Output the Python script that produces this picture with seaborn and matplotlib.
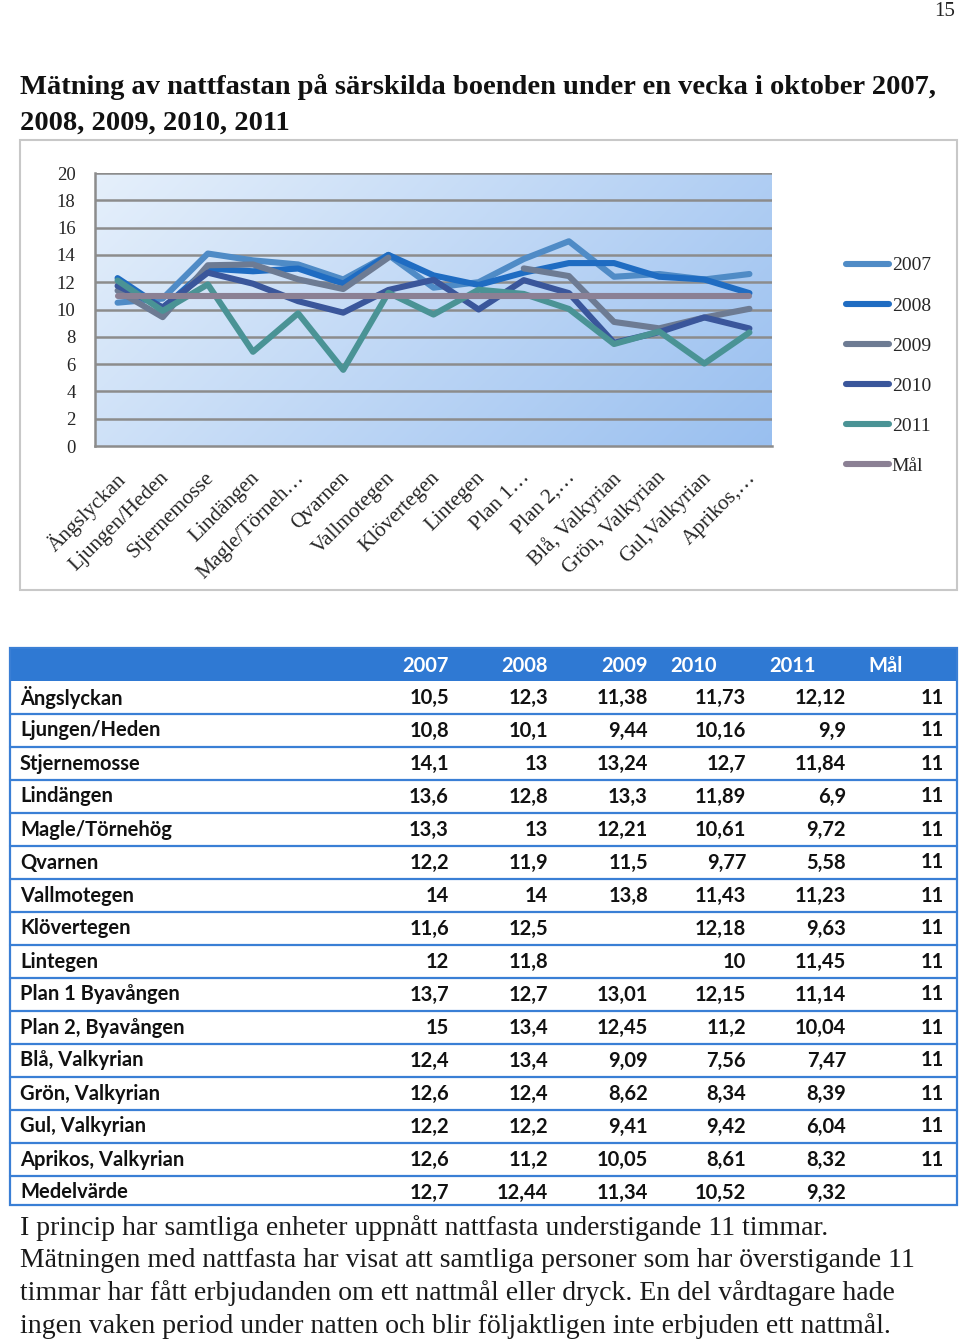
import numpy as np
import pandas as pd
import matplotlib
matplotlib.use("Agg")
import matplotlib.pyplot as plt
import seaborn as sns
from matplotlib.patches import Rectangle
from matplotlib.lines import Line2D

nan = np.nan
units = ["Ängslyckan", "Ljungen/Heden", "Stjernemosse", "Lindängen", "Magle/Törnehög",
         "Qvarnen", "Vallmotegen", "Klövertegen", "Lintegen", "Plan 1 Byavången",
         "Plan 2, Byavången", "Blå, Valkyrian", "Grön, Valkyrian", "Gul, Valkyrian",
         "Aprikos, Valkyrian"]
axis_labels = ["Ängslyckan", "Ljungen/Heden", "Stjernemosse", "Lindängen", "Magle/Törneh…",
               "Qvarnen", "Vallmotegen", "Klövertegen", "Lintegen", "Plan 1…",
               "Plan 2,…", "Blå, Valkyrian", "Grön, Valkyrian", "Gul,Valkyrian", "Aprikos,…"]
y2007 = [10.5, 10.8, 14.1, 13.6, 13.3, 12.2, 14, 11.6, 12, 13.7, 15, 12.4, 12.6, 12.2, 12.6]
y2008 = [12.3, 10.1, 13, 12.8, 13, 11.9, 14, 12.5, 11.8, 12.7, 13.4, 13.4, 12.4, 12.2, 11.2]
y2009 = [11.38, 9.44, 13.24, 13.3, 12.21, 11.5, 13.8, nan, nan, 13.01, 12.45, 9.09, 8.62, 9.41, 10.05]
y2010 = [11.73, 10.16, 12.7, 11.89, 10.61, 9.77, 11.43, 12.18, 10, 12.15, 11.2, 7.56, 8.34, 9.42, 8.61]
y2011 = [12.12, 9.9, 11.84, 6.9, 9.72, 5.58, 11.23, 9.63, 11.45, 11.14, 10.04, 7.47, 8.39, 6.04, 8.32]
goal = [11] * 15
mean_label = "Medelvärde"
mean_row = [12.7, 12.44, 11.34, 10.52, 9.32]
series_names = ["2007", "2008", "2009", "2010", "2011", "Mål"]
series_colors = ["#4f8bc6", "#1f6cc2", "#6d7b93", "#3a569b", "#4a9395", "#8b8094"]
y_ticks = [0, 2, 4, 6, 8, 10, 12, 14, 16, 18, 20]

series_values = [y2007, y2008, y2009, y2010, y2011, goal]

sns.set_style("white")
plt.rcParams["font.family"] = ["Liberation Serif", "DejaVu Serif"]

W, H = 960, 1343
fig = plt.figure(figsize=(W / 100, H / 100), dpi=100)

def fx(px):
    return px / W

def fy(py):
    return 1 - py / H

# page number and title
fig.text(fx(955), fy(12), "15", ha="right", va="center", fontsize=15, color="#222")
title_font = dict(fontsize=20.5, fontweight="bold", color="#111", ha="left", va="center")
fig.text(fx(20), fy(87), "Mätning av nattfastan på särskilda boenden under en vecka i oktober 2007,", **title_font)
fig.text(fx(20), fy(123), "2008, 2009, 2010, 2011", **title_font)

# chart frame
fig.patches.append(Rectangle((fx(20), fy(590)), fx(957) - fx(20), fy(140) - fy(590),
                             transform=fig.transFigure, fill=False, edgecolor="#c8c8c8", lw=1.5))

ax = fig.add_axes([fx(95), fy(446), fx(772) - fx(95), fy(173) - fy(446)])
n = len(units)
ax.set_xlim(-0.5, n - 0.5)
ax.set_ylim(0, 20)

# gradient background
gx, gy = np.meshgrid(np.linspace(0, 1, 300), np.linspace(0, 1, 200))
t = np.clip(0.7 * gx + 0.3 * gy, 0, 1)
c0 = np.array([0.90, 0.94, 0.985])
c1 = np.array([0.60, 0.75, 0.94])
img = c0[None, None, :] * (1 - t[..., None]) + c1[None, None, :] * t[..., None]
ax.imshow(img, extent=(-0.5, n - 0.5, 0, 20), aspect="auto", origin="upper", zorder=0)

for yv in y_ticks[1:]:
    ax.axhline(yv, color="#8c8c8c", lw=1.8, zorder=1)

x = np.arange(n)
handles = []
for name, vals, col in zip(series_names, series_values, series_colors):
    v = np.array(vals, dtype=float)
    ok = ~np.isnan(v)
    idx = np.where(ok)[0]
    segs = np.split(idx, np.where(np.diff(idx) > 1)[0] + 1)
    for s in segs:
        sns.lineplot(x=x[s], y=v[s], ax=ax, color=col, lw=4.4, zorder=3,
                     solid_capstyle="round", legend=False)
    handles.append(Line2D([0], [0], color=col, lw=4.4, solid_capstyle="round"))

ax.set_yticks(y_ticks)
ax.set_yticklabels([str(v) for v in y_ticks], fontsize=13.5)
ax.set_xticks(x)
ax.set_xticklabels(axis_labels, rotation=45, ha="right", rotation_mode="anchor", fontsize=15.3)
ax.set_xticks(np.arange(n + 1) - 0.5, minor=True)
ax.tick_params(axis="x", which="major", length=0, pad=16)
ax.tick_params(axis="x", which="minor", length=5, color="#8c8c8c", width=1.8, direction="out")
ax.tick_params(axis="y", length=6, color="#8c8c8c", width=1.8, direction="out", pad=8)
for lab in ax.get_xticklabels():
    lab.set_transform(lab.get_transform() + matplotlib.transforms.ScaledTranslation(-3 / 100, 0, fig.dpi_scale_trans))
for side in ["top", "right"]:
    ax.spines[side].set_visible(False)
ax.spines["left"].set_color("#8c8c8c")
ax.spines["bottom"].set_color("#8c8c8c")
ax.spines["left"].set_linewidth(1.8)
ax.spines["bottom"].set_linewidth(1.8)
ax.set_xlabel("")
ax.set_ylabel("")

ax.legend(handles, series_names, loc="center left", bbox_to_anchor=(fx(846), fy(366)),
          bbox_transform=fig.transFigure, frameon=False, fontsize=14, handlelength=2.2,
          handletextpad=0.15, labelspacing=1.16, borderaxespad=0, borderpad=0)

# ---------- table ----------
tfont = ["Lato", "DejaVu Sans"]
left, right = 10, 957
top = 648
hdr_h = 33
row_h = 33
nrows = n + 1
bottom = top + hdr_h + row_h * nrows - 4
blue = "#2f79d3"
fig.patches.append(Rectangle((fx(left), fy(top + hdr_h)), fx(right) - fx(left), fy(top) - fy(top + hdr_h),
                             transform=fig.transFigure, facecolor=blue, edgecolor="none"))
fig.patches.append(Rectangle((fx(left), fy(bottom)), fx(right) - fx(left), fy(top) - fy(bottom),
                             transform=fig.transFigure, fill=False, edgecolor="#3a7fd5", lw=1.6))
for i in range(1, nrows):
    yy = top + hdr_h + row_h * i
    fig.add_artist(Line2D([fx(left), fx(right)], [fy(yy), fy(yy)], transform=fig.transFigure,
                          color="#3a7fd5", lw=1.6))

col_right = [449, 548, 648, 746, 846, 944]
hdr_pos = [(449, "right"), (548, "right"), (648, "right"), (670, "left"), (769, "left"), (868, "left")]
hy = top + hdr_h / 2 + 1
for name, (px, ha) in zip(series_names, hdr_pos):
    fig.text(fx(px), fy(hy), name, ha=ha, va="center", fontsize=14.5, fontweight="bold",
             color="white", family=tfont)

def fmt(v):
    if v is None or (isinstance(v, float) and np.isnan(v)):
        return ""
    return f"{v:g}".replace(".", ",")

for r in range(n):
    cy = top + hdr_h + row_h * r + row_h / 2
    fig.text(fx(20), fy(cy), units[r], ha="left", va="center", fontsize=14.5, fontweight="bold",
             color="#111", family=tfont)
    for c, vals in enumerate(series_values):
        fig.text(fx(col_right[c]), fy(cy), fmt(vals[r]), ha="right", va="center", fontsize=14.5,
                 fontweight="bold", color="#111", family=tfont)
cy = top + hdr_h + row_h * n + row_h / 2
fig.text(fx(20), fy(cy), mean_label, ha="left", va="center", fontsize=14.5, fontweight="bold",
         color="#111", family=tfont)
for c, v in enumerate(mean_row):
    fig.text(fx(col_right[c]), fy(cy), fmt(v), ha="right", va="center", fontsize=14.5,
             fontweight="bold", color="#111", family=tfont)

# ---------- body text ----------
body = ["I princip har samtliga enheter uppnått nattfasta understigande 11 timmar.",
        "Mätningen med nattfasta har visat att samtliga personer som har överstigande 11",
        "timmar har fått erbjudanden om ett nattmål eller dryck. En del vårdtagare hade",
        "ingen vaken period under natten och blir följaktligen inte erbjuden ett nattmål."]
for i, line in enumerate(body):
    fig.text(fx(20), fy(1228 + 32.7 * i), line, ha="left", va="center", fontsize=20, color="#1a1a1a")

fig.savefig("out.png", dpi=100)
